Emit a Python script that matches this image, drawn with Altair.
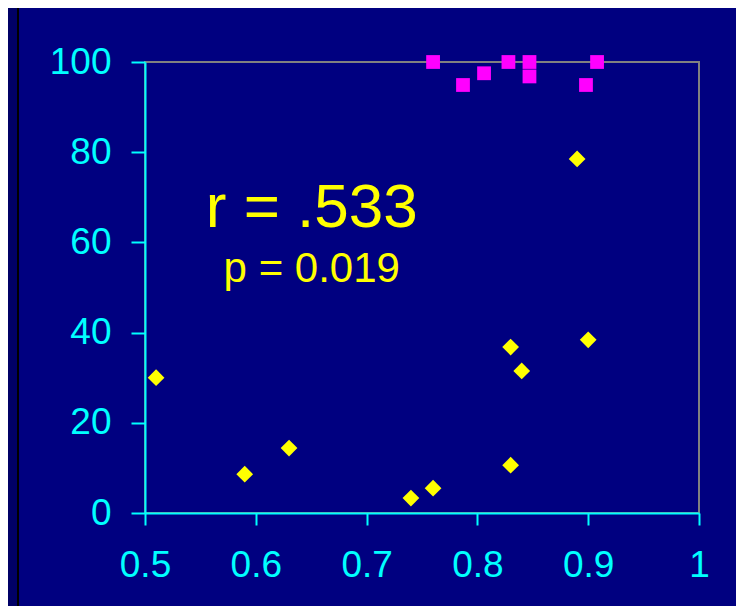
import altair as alt
import pandas as pd

# yellow diamonds series
dia_x = [0.51, 0.59, 0.63, 0.74, 0.76, 0.83, 0.83, 0.84, 0.89, 0.90]
dia_y = [30, 8.6, 14.4, 3.3, 5.5, 10.6, 36.8, 31.5, 78.5, 38.4]
# magenta squares series
sq_x = [0.76, 0.787, 0.806, 0.828, 0.847, 0.847, 0.898, 0.908]
sq_y = [100, 94.9, 97.5, 100, 100, 96.8, 94.9, 100]

x_ticks = [0.5, 0.6, 0.7, 0.8, 0.9, 1.0]
y_ticks = [0, 20, 40, 60, 80, 100]

ann_text = ["r = .533", "p = 0.019"]
ann_x = [0.6505, 0.6505]
ann_y = [63.4, 51.2]

FONT = "Liberation Sans"
CYAN = "#00FFFF"

dia = pd.DataFrame({"x": dia_x, "y": dia_y})
sq = pd.DataFrame({"x": sq_x, "y": sq_y})
ann = pd.DataFrame({"t": ann_text, "x": ann_x, "y": ann_y, "s": [62, 42]})

xs = alt.Scale(domain=[0.5, 1.0], nice=False, zero=False)
ys = alt.Scale(domain=[0, 100], nice=False)

xaxis = alt.Axis(values=x_ticks, format=".1~f", title=None, grid=False,
                 domainColor=CYAN, domainWidth=2, tickColor=CYAN, tickWidth=2,
                 tickSize=12, labelColor=CYAN, labelFont=FONT, labelFontSize=37,
                 labelPadding=22, labelFlush=False, labelOverlap=False)
yaxis = alt.Axis(values=y_ticks, title=None, grid=False,
                 domainColor=CYAN, domainWidth=2, tickColor=CYAN, tickWidth=2,
                 tickSize=14, labelColor=CYAN, labelFont=FONT, labelFontSize=37,
                 labelPadding=20, labelFlush=False, labelOverlap=False)

base_d = alt.Chart(dia).mark_point(shape="diamond", filled=True, color="#FFFF00",
                                   size=280, opacity=1).encode(
    x=alt.X("x:Q", scale=xs, axis=xaxis),
    y=alt.Y("y:Q", scale=ys, axis=yaxis),
)
base_s = alt.Chart(sq).mark_point(shape="square", filled=True, color="#FF00FF",
                                  size=190, opacity=1).encode(
    x=alt.X("x:Q", scale=xs),
    y=alt.Y("y:Q", scale=ys),
)
txt = alt.Chart(ann).mark_text(color="#FFFF00", font=FONT, align="center",
                               baseline="alphabetic").encode(
    x=alt.X("x:Q", scale=xs),
    y=alt.Y("y:Q", scale=ys),
    text="t:N",
    size=alt.Size("s:Q", scale=None, legend=None),
)

strip = pd.DataFrame({"k": ["outer", "line"]})
outer = alt.Chart(strip).transform_filter("datum.k == 'outer'").mark_rect(
    color="#000066").encode(x=alt.value(-137), x2=alt.value(-128),
                            y=alt.value(-60), y2=alt.value(560))
line = alt.Chart(strip).transform_filter("datum.k == 'line'").mark_rect(
    color="#000000").encode(x=alt.value(-128), x2=alt.value(-126),
                            y=alt.value(-60), y2=alt.value(560))

chart = alt.layer(outer, line, base_d, base_s, txt).properties(
    width=554, height=451,
    background="#000080",
    padding={"left": 137, "top": 54, "right": 37, "bottom": 93},
    autosize=alt.AutoSizeParams(type="none"),
).configure_view(stroke="#808080", strokeWidth=2)

chart.save("out.html", embed_options={"renderer": "svg", "actions": False})
